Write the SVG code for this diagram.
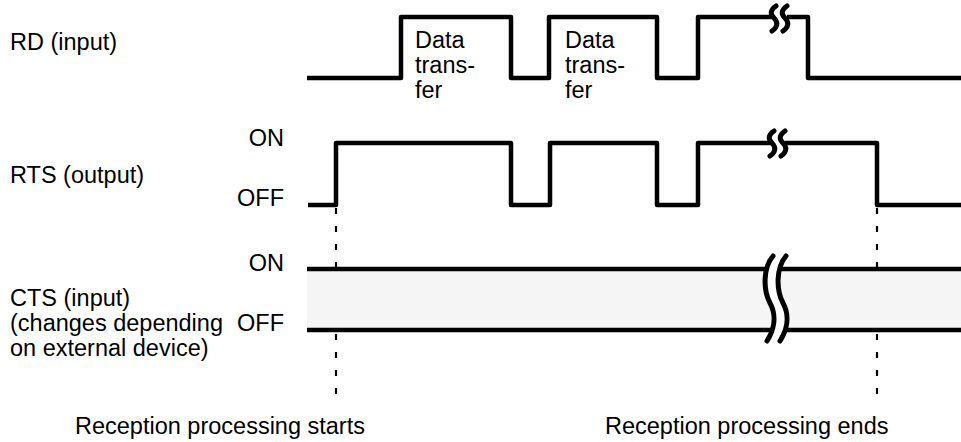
<svg xmlns="http://www.w3.org/2000/svg" width="961" height="442" viewBox="0 0 961 442">
  <style>
    text { font-family: "Liberation Sans", Arial, sans-serif; font-size: 23.5px; fill: #000; }
    .r { text-anchor: end; }
    .sig { fill: none; stroke: #000; stroke-width: 4.5; stroke-linejoin: round; stroke-linecap: butt; }
    .brk { fill: none; stroke: #000; stroke-width: 5; stroke-linecap: round; }
    .dash { fill: none; stroke: #000; stroke-width: 2.2; stroke-dasharray: 6 12; }
  </style>
  <rect width="961" height="442" fill="#fff"/>

  <g id="guides">
    <line class="dash" x1="336" y1="208" x2="336" y2="396"/>
    <line class="dash" x1="877" y1="208" x2="877" y2="396"/>
  </g>

  <g id="rd">
    <text x="10" y="50">RD (input)</text>
    <path class="sig" d="M307 78 H401 V17 H511 V78 H549 V17 H657 V78 H698 V17 H773"/>
    <path class="sig" d="M787 17 H808 V78 H961"/>
    <path class="brk" d="M776 6 C770 10, 770 14, 774 18 C778 22, 778 27, 772 31"/>
    <path class="brk" d="M787 6 C781 10, 781 14, 785 18 C789 22, 789 27, 783 31"/>
    <text x="415" y="48">Data</text>
    <text x="415" y="73">trans-</text>
    <text x="415" y="98">fer</text>
    <text x="565" y="48">Data</text>
    <text x="565" y="73">trans-</text>
    <text x="565" y="98">fer</text>
  </g>

  <g id="rts">
    <text x="10" y="183">RTS (output)</text>
    <text class="r" x="284" y="146">ON</text>
    <text class="r" x="284" y="206">OFF</text>
    <path class="sig" d="M308 205 H336 V143 H511 V205 H550 V143 H657 V205 H698 V143 H771"/>
    <path class="sig" d="M785 143 H877 V205 H961"/>
    <path class="brk" d="M774 131 C768 135, 768 139, 772 143 C776 147, 776 152, 770 156"/>
    <path class="brk" d="M785 131 C779 135, 779 139, 783 143 C787 147, 787 152, 781 156"/>
  </g>

  <g id="cts">
    <text class="r" x="284" y="271">ON</text>
    <text x="10" y="306">CTS (input)</text>
    <text x="10" y="331">(changes depending</text>
    <text class="r" x="284" y="331">OFF</text>
    <text x="10" y="356">on external device)</text>
    <rect x="307" y="269" width="654" height="61" fill="#f5f5f5"/>
    <line class="sig" x1="307" y1="269" x2="961" y2="269"/>
    <line class="sig" x1="307" y1="330" x2="961" y2="330"/>
    <path d="M773 256 C763 268, 763 290, 770 303 C777 316, 774 330, 767 341 L780 341 C787 330, 790 316, 783 303 C776 290, 776 268, 786 256 Z" fill="#fff"/>
    <path class="brk" stroke-width="6" d="M773 256 C763 268, 763 290, 770 303 C777 316, 774 330, 767 341"/>
    <path class="brk" stroke-width="6" d="M786 256 C776 268, 776 290, 783 303 C790 316, 787 330, 780 341"/>
  </g>

  <g id="labels">
    <text x="75" y="434">Reception processing starts</text>
    <text x="605" y="434">Reception processing ends</text>
  </g>
</svg>
